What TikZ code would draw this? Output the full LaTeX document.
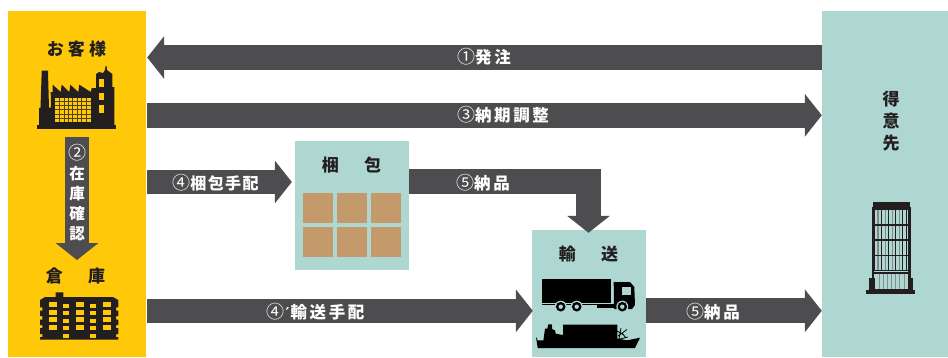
\documentclass[tikz,border=0pt]{standalone}
\usepackage{fontspec}
\setmainfont{Noto Sans CJK JP}
\newfontfamily\primefont{DejaVu Sans}
\usetikzlibrary{arrows.meta}
\definecolor{gold}{HTML}{FFC808}
\definecolor{mint}{HTML}{AFD7D2}
\definecolor{flowgray}{HTML}{4D4D4F}
\definecolor{ink}{HTML}{231F20}
\definecolor{carton}{HTML}{C49A6C}
\newcommand{\cnum}[1]{{\mdseries\fontsize{18}{18}\selectfont #1}}
\tikzset{
  flow/.style={draw=flowgray,line width=25pt,-{Triangle[width=42pt,length=17pt]}},
  flowlabel/.style={text=white,inner sep=0pt,font=\fontsize{16.5}{18}\selectfont\bfseries\addfontfeature{LetterSpace=16}},
  titlelabel/.style={text=ink,inner sep=0pt,font=\fontsize{17}{22}\selectfont\bfseries\addfontfeature{LetterSpace=24}},
  stacklabel/.style={align=center,inner sep=0pt},
  carton box/.style={fill=carton,draw=none},
}
\begin{document}
\begin{tikzpicture}[x=1pt,y=-1pt]
\useasboundingbox (0,0) rectangle (948,357);
% panels
\fill[gold] (8,11) rectangle (146,357);
\node[inner sep=0pt,minimum width=138pt,minimum height=346pt] (cust) at (77,184) {};
\fill[mint] (822,11) rectangle (948,357);
\node[inner sep=0pt,minimum width=126pt,minimum height=346pt] (client) at (885,184) {};
\fill[mint] (295,141) rectangle (409,270);
\node[inner sep=0pt,minimum width=114pt,minimum height=129pt] (pack) at (352,205.5) {};
\fill[mint] (532,230) rectangle (646,357);
\node[inner sep=0pt,minimum width=114pt,minimum height=127pt] (ship) at (589,293.5) {};
% connector rows
\coordinate (r1) at (0,57.5);
\coordinate (r3) at (0,115.3);
\coordinate (r4) at (0,182);
\coordinate (r5) at (0,181.5);
\coordinate (r6) at (0,310.8);
\coordinate (c5) at (588.5,0);
\coordinate (start2) at (77,137);
\coordinate (end2) at (77,260);
% connectors
\draw[flow] (client.west |- r1) -- ([xshift=1pt]cust.east |- r1);
\draw[flow] ([xshift=1pt]cust.east |- r3) -- (client.west |- r3);
\draw[flow,line width=24pt] ([xshift=1pt]cust.east |- r4) -- ([xshift=-3pt]pack.west |- r4);
\draw[flow,line width=25pt] (pack.east |- r5) -- (c5 |- r5) -- ([yshift=-3pt]c5 |- ship.north);
\draw[flow,line width=24pt] ([xshift=1pt]cust.east |- r6) -- ([xshift=1pt]ship.west |- r6);
\draw[flow,line width=25pt] (ship.east |- r6) -- (client.west |- r6);
\draw[flow,line width=24pt] (start2) -- (end2);
% flow labels
\node[flowlabel] (l1) at (484,57) {\cnum{①}発注};
\node[flowlabel] (l3) at (503,115) {\cnum{③}納期調整};
\node[flowlabel,font=\fontsize{16}{18}\selectfont\bfseries\addfontfeature{LetterSpace=9}] (l4) at (215.5,182.5) {\cnum{④}梱包手配};
\node[flowlabel] (l5a) at (483,182.5) {\cnum{⑤}納品};
\node[flowlabel] (l4b) at (315.5,311.5) {\cnum{④}\kern1pt{\primefont\bfseries\fontsize{15}{16}\selectfont ′}\kern1pt 輸送手配};
\node[flowlabel] (l5b) at (713,311.5) {\cnum{⑤}納品};
\node[stacklabel,text=white,font=\fontsize{15.5}{20}\selectfont\bfseries] (l2) at (77,192.5) {\cnum{②}\\在\\庫\\確\\認};
% titles
\node[titlelabel] (t1) at (76.5,49) {お客様};
\node[titlelabel] (t2) at (75.5,276) {倉　庫};
\node[titlelabel] (t3) at (351.5,165) {梱　包};
\node[titlelabel] (t4) at (588.5,254) {輸　送};
\node[stacklabel,text=ink,font=\fontsize{17}{22}\selectfont\bfseries] (t5) at (891,121) {得\\意\\先};
% cartons
\foreach \cx in {303,337,371}\foreach \cy in {193,227}
  \fill[carton box] (\cx,\cy) rectangle ++(30,30);
% factory
\fill[ink] (37.3,125.3) rectangle (115.7,129);
\fill[ink] (41.5,70.5) -- (48,70.5) -- (48,72) -- (49,107.5) -- (51,107.5) -- (50.7,92) -- (52.7,92) -- (52.7,84.7) -- (60.7,92) -- (61.7,84.7) -- (69.3,92) -- (70.3,84.7) -- (78.3,92) -- (79.3,84.7) -- (90.7,92) -- (91.7,88) -- (96,88) -- (96,74) -- (99,72) -- (103,73) -- (105,70) -- (105.6,66) -- (106.6,66) -- (107,70) -- (112.3,74) -- (112.3,87) -- (114.3,87) -- (114.3,125.3) -- (39,125.3) -- (39,108) -- (40.5,107.5) -- (41.7,72) -- cycle;
\foreach \wy in {79.3,92.7,105.3}
  \fill[gold] (99.3,\wy) rectangle ++(4.4,7.4);
\fill[gold] (55,97.7) rectangle (90.7,122);
\foreach \i in {1,...,7}
  \draw[ink!80!gold,line width=.8pt] ({55+\i*4.46},97.7) -- ++(0,24.3);
\foreach \i in {1,...,5}
  \draw[ink!80!gold,line width=.8pt] (55,{97.7+\i*4.05}) -- ++(35.7,0);
% warehouse
\fill[ink] (55.7,292.3) -- (63.3,292.3) -- (63.3,297) -- (113,297) -- (118.3,300) -- (118.3,307.3) -- (116,307.3) -- (116,310.5) -- (118.3,310.5) -- (118.3,316) -- (116,316) -- (116,319.5) -- (118.3,319.5) -- (118.3,325) -- (116,325) -- (116,328) -- (118.3,328) -- (118.3,334) -- (116,334) -- (116,337) -- (118.3,337) -- (118.3,339.7) -- (40,339.7) -- (40,337) -- (42.3,337) -- (42.3,334) -- (40,334) -- (40,328) -- (42.3,328) -- (42.3,325) -- (40,325) -- (40,319.5) -- (42.3,319.5) -- (42.3,316) -- (40,316) -- (40,310.5) -- (42.3,310.5) -- (42.3,307.3) -- (40,307.3) -- (40,300) -- (45,297) -- (55.7,297) -- cycle;
\foreach \wx/\ww in {49.3/7.4,76/7.7,103/7.7}\foreach \wy in {302.3,310,317.3,324.7}
  \fill[gold] (\wx,\wy) rectangle ++(\ww,4.8);
\foreach \wx in {62.7,89.7}\foreach \wy in {304,311.3,318.7,326,333.7}
  \fill[gold] (\wx,\wy) rectangle ++(6.6,4.1);
% truck
\fill[black] (542.3,278.7) rectangle (611,303);
\fill[black] (596.7,304) rectangle (615,308);
\fill[black] (613.7,282) -- (630,282) -- (634.3,287) -- (635,305) -- (632,309) -- (614,309) -- cycle;
\fill[mint] (622.3,287) rectangle (631,294.7);
\draw[black,line width=.6pt] (542.3,304) -- (596.7,304);
\foreach \wx in {560.7,576.7,622.3}{
  \fill[mint] (\wx,306.7) circle (6);
  \fill[black] (\wx,306.7) circle (4.8);
  \fill[mint] (\wx,306.7) circle (2.2);
}
% ship
\fill[black] (536,337) -- (537.7,340.3) -- (563,340.3) -- (563,324.7) -- (617.3,324.7) -- (617.3,338.5) -- (627,340.3) -- (640,337.7) -- (635,348) -- (537.7,348) -- cycle;
\fill[black] (543.3,341) -- (545,328.7) -- (547.3,328.7) -- (548.3,324.3) -- (551.7,324.3) -- (552.3,329.3) -- (555,330.3) -- (555.7,333.7) -- (563,335) -- (563,341) -- cycle;
\draw[black,line width=.8pt] (619,339) -- (621,328) (618,336) -- (627,329.5) (620,339) -- (628,337) (622,333) -- (626,338) (617,331) -- (624,335);
% client tower
\fill[ink] (866,290) rectangle (915,294.3);
\fill[ink] (873.3,201.7) rectangle (910,207.3);
\fill[ink] (869,278.3) rectangle (875,290);
\fill[ink] (908,278.3) rectangle (913.3,290);
\foreach \i in {0,...,9}
  \draw[ink,line width=1pt] ({874.5+\i*3.55},208) -- ++(0,62);
\foreach \i in {1,3,5,7}
  \draw[gray!90!mint,line width=1.2pt] ({874.5+\i*3.55},208) -- ++(0,62);
\foreach \i in {1,...,8}
  \draw[gray!85!mint,line width=.9pt] ({875+\i*3.45*1.2},274) -- ++(0,15);
\draw[ink,line width=2.4pt] (873,208.5) rectangle (909.5,290);
\foreach \hy in {225,240,255.5,270.5,273}
  \draw[ink,line width=1.3pt] (873,\hy) -- (909.5,\hy);
\end{tikzpicture}
\end{document}
